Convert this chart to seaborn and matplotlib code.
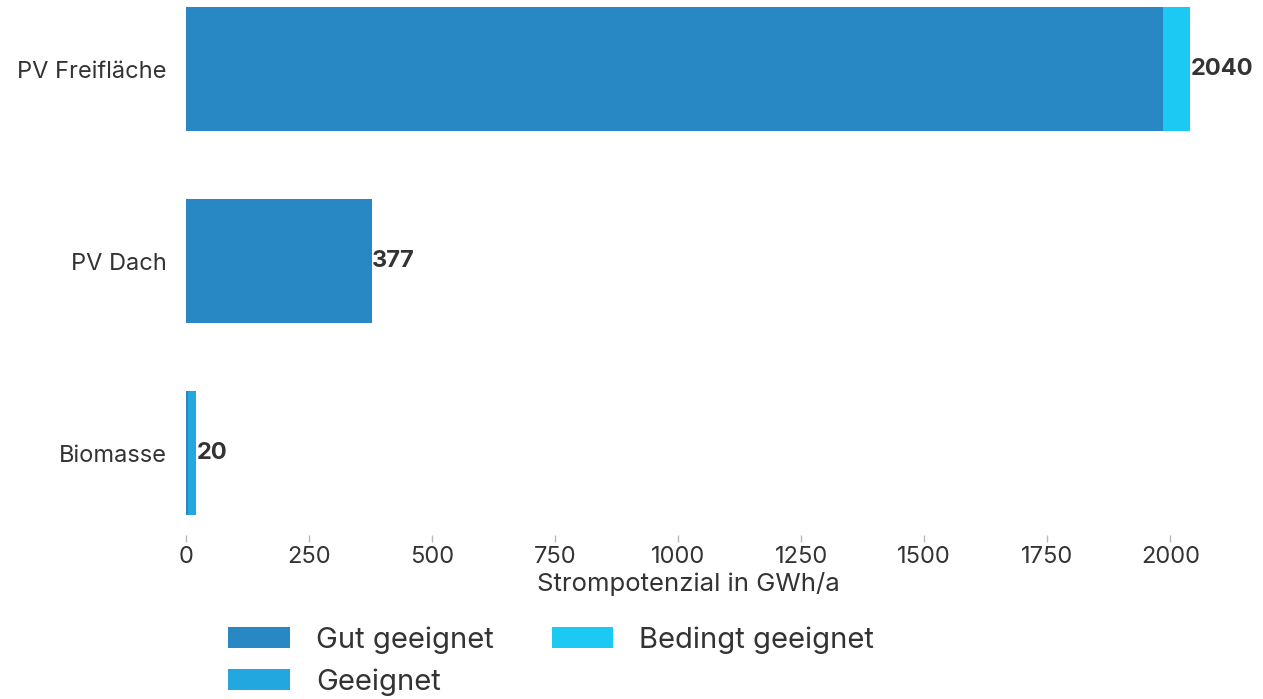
import matplotlib
matplotlib.use("Agg")
import matplotlib.pyplot as plt
import seaborn as sns
import pandas as pd
from matplotlib.patches import Patch

categories = ["PV Freifläche", "PV Dach", "Biomasse"]
gut = [1985, 377, 5]
geeignet = [0, 0, 15]
bedingt = [55, 0, 0]
totals = [2040, 377, 20]
series_labels = ["Gut geeignet", "Geeignet", "Bedingt geeignet"]
colors = ["#2788C4", "#22A7DE", "#1BC9F3"]
xticks = [0, 250, 500, 750, 1000, 1250, 1500, 1750, 2000]

sns.set_theme(style="white")
plt.rcParams["font.family"] = ["Inter", "DejaVu Sans"]
txt = "#333333"

fig = plt.figure(figsize=(12.63, 6.99), dpi=100)
ax = fig.add_axes([186/1263, 1 - 535/699, (1190 - 186)/1263, 535/699])

layers = [
    [g + e + b for g, e, b in zip(gut, geeignet, bedingt)],
    [g + e for g, e in zip(gut, geeignet)],
    list(gut),
]
layer_colors = [colors[2], colors[1], colors[0]]
for vals, c in zip(layers, layer_colors):
    df = pd.DataFrame({"cat": categories, "val": vals})
    sns.barplot(data=df, x="val", y="cat", orient="h", color=c, width=0.65,
                saturation=1, ax=ax, linewidth=0, order=categories)

for i, t in enumerate(totals):
    ax.text(t + 1, i, f"{t}", va="center", ha="left", fontsize=17,
            fontweight="bold", color=txt)

ax.set_xlim(0, 2040)
ax.set_ylim(2.427, -0.36)
ax.set_xticks(xticks)
ax.set_xticklabels([str(v) for v in xticks], fontsize=17, color=txt)
ax.tick_params(axis="y", labelsize=17, labelcolor=txt, length=0, pad=14)
ax.tick_params(axis="x", length=5, width=1, color="#bbbbbb", pad=3, bottom=True)
ax.set_ylabel("")
ax.set_xlabel("Strompotenzial in GWh/a", fontsize=18.5, color=txt, labelpad=3)
for s in ax.spines.values():
    s.set_visible(False)

handles = [Patch(facecolor=c, edgecolor="none", label=l) for c, l in zip(colors, series_labels)]
fig.legend(handles=handles, ncol=2, loc="upper left",
           bbox_to_anchor=(202/1263, 1 - 600/699), frameon=False,
           fontsize=21, handlelength=2.1, handleheight=0.7,
           handletextpad=0.9, columnspacing=2.0, labelspacing=0.5,
           labelcolor=txt)

fig.savefig("out.png", dpi=100)
